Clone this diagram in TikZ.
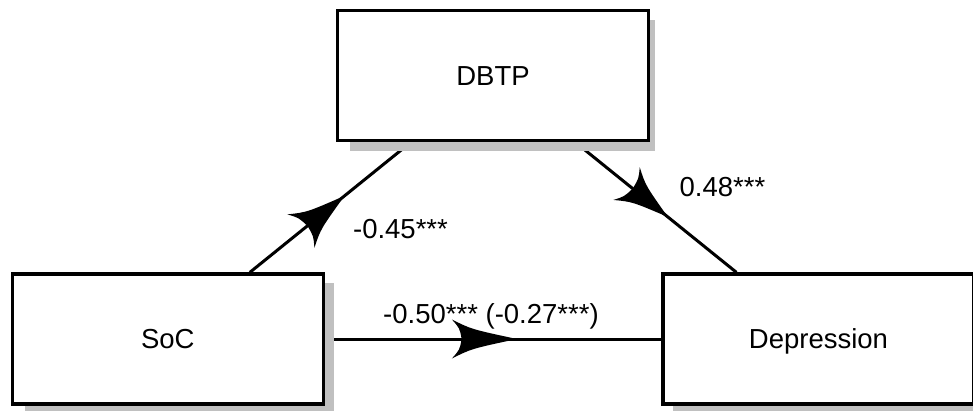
\documentclass[tikz,border=0pt]{standalone}
\usepackage{fontspec}
\setmainfont{Liberation Sans}
\usetikzlibrary{calc,decorations.markings}
\pgfdeclarelayer{wires}
\pgfdeclarelayer{shade}
\pgfsetlayers{wires,shade,main}
\definecolor{shadowgray}{RGB}{192,192,192}
\tikzset{
  varbox/.style={draw, line width=3.3pt, fill=white, minimum width=311pt,
    minimum height=130pt, inner sep=0pt, text height=19.7pt, text depth=0pt,
    font=\fontsize{27.5}{33}\selectfont},
  coef/.style={anchor=base, inner sep=0pt, font=\fontsize{27.5}{33}\selectfont},
  link/.style={line width=3pt},
  % concave-sided arrowhead placed part way along a connector:
  % #1 = distance of its back from the start, #2 = length, #3 = half width
  midhead/.style n args={3}{postaction={decorate}, decoration={markings,
    mark=at position #1 with {\fill (#2,0)
      .. controls ({0.3*#2},{0.5*#3}) .. (0,#3)
      .. controls ({0.12*#2},{0.55*#3}) .. ({0.15*#2},0)
      .. controls ({0.12*#2},{-0.55*#3}) .. (0,-#3)
      .. controls ({0.3*#2},{-0.5*#3}) .. (#2,0) -- cycle;}}},
}
\begin{document}
\begin{tikzpicture}[x=1pt,y=-1pt]
\clip (0,0) rectangle (973,411);

% variables
\node[varbox] (dbtp) at (493,75.5) {DBTP};
\node[varbox] (soc) at (167.75,339) {SoC};
\node[varbox] (dep) at (818.5,339) {Depression};

% drop shadows behind the boxes
\begin{pgfonlayer}{shade}
  \fill[shadowgray] ($(dbtp.north west)+(14,11)$) rectangle ($(dbtp.south east)+(5,9)$);
  \fill[shadowgray] ($(soc.north west)+(14,11)$) rectangle ($(soc.south east)+(9,6)$);
  \fill[shadowgray] ($(dep.north west)+(12,11)$) rectangle ($(dep.south east)+(9,10)$);
\end{pgfonlayer}

% paths
\begin{pgfonlayer}{wires}
  \draw[link, midhead={65.6pt}{56}{21.5}] (soc) -- (dbtp);
  \draw[link, midhead={66pt}{53}{21}] (dbtp) -- (dep);
  \draw[link, midhead={127pt}{65}{19.5}] (soc) -- (dep);
\end{pgfonlayer}

% path coefficients
\node[coef] (ca) at (400.5,238.3) {-0.45***};
\node[coef] (cb) at (722.5,197) {0.48***};
\node[coef] (cc) at (491,323.3) {-0.50*** (-0.27***)};
\end{tikzpicture}
\end{document}
